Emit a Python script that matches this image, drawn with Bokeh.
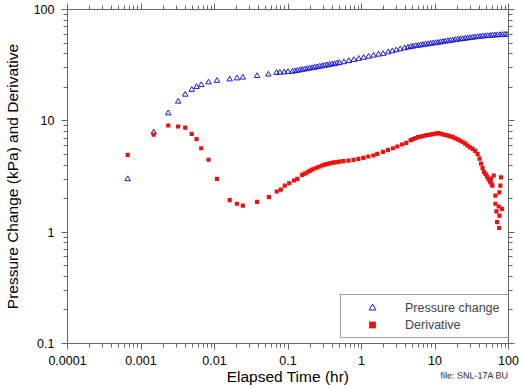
from bokeh.plotting import figure
from bokeh.models import (LogAxis, Legend, LegendItem, ColumnDataSource,
                          FixedTicker, CustomJSTickFormatter)
from bokeh.embed import file_html
from bokeh.resources import INLINE

# ---------------- data ----------------
elapsed_pc = [0.00066, 0.00149, 0.00235, 0.0032, 0.0040, 0.0049, 0.0057, 0.0066, 0.0083, 0.0108,
              0.0161, 0.0202, 0.0243, 0.038, 0.054, 0.0698, 0.0773, 0.0886, 0.100, 0.115,
              0.124, 0.134, 0.145, 0.156, 0.169, 0.183, 0.197, 0.213, 0.230, 0.249,
              0.269, 0.291, 0.314, 0.340, 0.367, 0.396, 0.429, 0.463, 0.500, 0.575,
              0.672, 0.785, 0.917, 1.07, 1.25, 1.46, 1.71, 1.97, 2.31, 2.63,
              2.98, 3.37, 3.86, 4.29, 4.67, 5.05, 5.46, 5.90, 6.38, 6.89,
              7.45, 8.05, 8.70, 9.40, 10.2, 11.0, 11.9, 12.8, 13.8, 15.0,
              16.2, 17.5, 18.9, 20.4, 22.1, 23.8, 25.8, 27.8, 30.1, 32.5,
              35.1, 38.0, 41.0, 44.4, 48.0, 51.8, 56.0, 60.5, 65.3, 70.6,
              76.4, 82.4, 89.1, 94.8]
pressure_change = [3.0, 7.9, 11.7, 14.9, 17.2, 19.0, 20.2, 21.0, 22.2, 22.9,
                   23.6, 24.1, 24.5, 25.3, 26.1, 27.0, 27.1, 27.3, 27.5, 27.7,
                   27.96, 28.2, 28.5, 28.8, 29.0, 29.3, 29.6, 29.8, 30.1, 30.4,
                   30.7, 31.0, 31.3, 31.6, 31.9, 32.2, 32.4, 32.8, 33.1, 33.7,
                   34.5, 35.3, 36.1, 36.9, 37.7, 38.6, 39.4, 40.0, 41.3, 42.2,
                   43.1, 44.0, 44.9, 45.6, 46.2, 46.6, 47.0, 47.4, 47.7, 48.1,
                   48.5, 48.9, 49.3, 49.7, 50.0, 50.4, 50.8, 51.3, 51.7, 52.1,
                   52.5, 52.9, 53.3, 53.8, 54.1, 54.4, 54.9, 55.2, 55.6, 55.9,
                   56.4, 56.7, 57.1, 57.4, 57.7, 57.9, 58.2, 58.4, 58.7, 58.9,
                   59.0, 59.3, 59.4, 59.5]

elapsed_der = [0.00066, 0.00149, 0.00235, 0.0032, 0.0040, 0.0049, 0.0057, 0.0066, 0.0083, 0.0108,
               0.0161, 0.0202, 0.0243, 0.038, 0.055, 0.0704, 0.0798, 0.0903, 0.104, 0.121,
               0.134, 0.156, 0.169, 0.183, 0.197, 0.213, 0.230, 0.249, 0.269, 0.291,
               0.314, 0.340, 0.367, 0.396, 0.429, 0.463, 0.500, 0.570, 0.666, 0.778,
               0.908, 1.06, 1.24, 1.45, 1.64, 1.96, 2.30, 2.69, 3.08, 3.56,
               4.07, 4.67, 5.05, 5.46, 5.90, 6.38, 6.89, 7.45, 8.05, 8.70,
               9.40, 10.2, 11.0, 11.9, 12.8, 13.8, 15.0, 16.2, 17.5, 18.9,
               20.4, 22.1, 23.8, 25.8, 27.8, 30.1, 32.5, 35.1, 38.0, 40.4,
               42.3, 44.4, 46.5, 48.7, 51.0, 53.4, 56.0, 58.6, 57.7, 60.5,
               63.0, 79.2, 77.6, 66.4, 75.2, 66.4, 73.6, 81.7, 68.5, 75.2,
               70.0, 74.5]
derivative = [4.94, 7.53, 9.08, 8.89, 8.70, 7.64, 6.84, 5.67, 4.47, 3.01,
              1.94, 1.80, 1.73, 1.87, 2.06, 2.32, 2.41, 2.62, 2.75, 2.91,
              3.01, 3.27, 3.36, 3.45, 3.55, 3.64, 3.73, 3.81, 3.89, 3.97,
              4.04, 4.09, 4.14, 4.19, 4.23, 4.26, 4.30, 4.34, 4.40, 4.46,
              4.56, 4.65, 4.78, 4.88, 5.05, 5.27, 5.49, 5.67, 5.88, 6.13,
              6.34, 6.71, 6.85, 6.99, 7.14, 7.22, 7.31, 7.39, 7.46, 7.52,
              7.60, 7.67, 7.74, 7.66, 7.56, 7.46, 7.35, 7.24, 7.14, 6.95,
              6.81, 6.63, 6.45, 6.23, 5.99, 5.78, 5.59, 5.38, 5.03, 4.58,
              4.13, 3.77, 3.47, 3.33, 3.16, 3.00, 2.85, 2.73, 3.03, 2.62,
              3.23, 3.11, 2.62, 2.13, 2.28, 1.80, 1.70, 1.62, 1.54, 1.41,
              1.23, 1.09]

x_ticks = [0.0001, 0.001, 0.01, 0.1, 1, 10, 100]
x_tick_labels = ["0.0001", "0.001", "0.01", "0.1", "1", "10", "100"]
y_ticks = [0.1, 1, 10, 100]
y_tick_labels = ["0.1", "1", "10", "100"]
file_note = "file: SNL-17A BU"

x_minor = [m * t for t in x_ticks[:-1] for m in range(2, 10)]
y_minor = [m * t for t in y_ticks[:-1] for m in range(2, 10)]

FONT = "Liberation Sans"
AXIS_COLOR = "#666666"

p = figure(width=519, height=388, x_axis_type="log", y_axis_type="log",
           x_range=(0.0001, 100), y_range=(0.1, 100),
           output_backend="svg", toolbar_location=None,
           min_border_left=63, min_border_right=11, min_border_top=9, min_border_bottom=45)
p.grid.visible = False
p.outline_line_color = None
p.background_fill_color = "white"
p.border_fill_color = "white"

src_pc = ColumnDataSource(dict(x=elapsed_pc, y=pressure_change))
src_der = ColumnDataSource(dict(x=elapsed_der, y=derivative))

r_pc = p.scatter("x", "y", source=src_pc, marker="triangle", size=5.5,
                 fill_color=None, line_color="#1a1ae6", line_width=1)
r_der = p.scatter("x", "y", source=src_der, marker="square", size=4.2,
                  fill_color="#ee1111", line_color=None)

fmt_js = ("const i = vals.findIndex(v => Math.abs(Math.log10(v) - Math.log10(tick)) < 1e-6);"
          "return i >= 0 ? labs[i] : '';")
xfmt = CustomJSTickFormatter(args=dict(vals=x_ticks, labs=x_tick_labels), code=fmt_js)
yfmt = CustomJSTickFormatter(args=dict(vals=y_ticks, labs=y_tick_labels), code=fmt_js)


def style(ax):
    ax.axis_line_color = AXIS_COLOR
    ax.major_tick_line_color = AXIS_COLOR
    ax.minor_tick_line_color = AXIS_COLOR
    ax.major_tick_in = 0
    ax.minor_tick_in = 0
    ax.major_tick_out = 6
    ax.minor_tick_out = 4
    ax.major_label_text_font = FONT
    ax.major_label_text_font_size = "12.5px"
    ax.major_label_text_color = "black"
    ax.axis_label_text_font = FONT
    ax.axis_label_text_font_size = "15.5px"
    ax.axis_label_text_font_style = "normal"
    ax.axis_label_text_color = "black"


xax = p.xaxis[0]
xax.ticker = FixedTicker(ticks=x_ticks, minor_ticks=x_minor)
xax.formatter = xfmt
xax.axis_label = "Elapsed Time (hr)"
style(xax)
xax.major_label_standoff = 6
xax.axis_label_standoff = 0

yax = p.yaxis[0]
yax.ticker = FixedTicker(ticks=y_ticks, minor_ticks=y_minor)
yax.formatter = yfmt
yax.axis_label = "Pressure Change (kPa) and Derivative"
style(yax)
yax.major_label_standoff = 7
yax.axis_label_standoff = 10

blank = CustomJSTickFormatter(code="return '';")
top = LogAxis(ticker=FixedTicker(ticks=x_ticks, minor_ticks=x_minor), formatter=blank)
right = LogAxis(ticker=FixedTicker(ticks=y_ticks, minor_ticks=y_minor), formatter=blank)
for ax in (top, right):
    style(ax)
    ax.major_label_text_font_size = "0px"
    ax.major_label_standoff = 0
    ax.major_tick_out = 6
    ax.minor_tick_out = 4
p.add_layout(top, "above")
p.add_layout(right, "right")

# small file note at the bottom right, drawn as the label of an invisible extra axis
note_axis = LogAxis(ticker=FixedTicker(ticks=[], minor_ticks=[]), formatter=blank)
note_axis.axis_line_color = None
note_axis.major_tick_out = 0
note_axis.minor_tick_out = 0
note_axis.major_label_text_font_size = "0px"
note_axis.major_label_standoff = 0
note_axis.axis_label = file_note
note_axis.axis_label_text_font = FONT
note_axis.axis_label_text_font_size = "9px"
note_axis.axis_label_text_font_style = "normal"
note_axis.axis_label_text_color = "#222222"
note_axis.axis_label_standoff = -12
note_axis.axis_label_align = "end"
note_axis.axis_label_orientation = 0.001
p.add_layout(note_axis, "below")

legend = Legend(items=[LegendItem(label="Pressure change", renderers=[r_pc]),
                       LegendItem(label="Derivative", renderers=[r_der])],
                location=(273, 5), padding=4, spacing=0, margin=0,
                glyph_width=54, glyph_height=17, label_height=17, label_standoff=6,
                label_width=100,
                label_text_font=FONT, label_text_font_size="12.5px",
                border_line_color="#444444", border_line_width=1,
                background_fill_color="white", background_fill_alpha=1.0)
p.add_layout(legend, "center")

open("out.html", "w").write(file_html(p, INLINE))
